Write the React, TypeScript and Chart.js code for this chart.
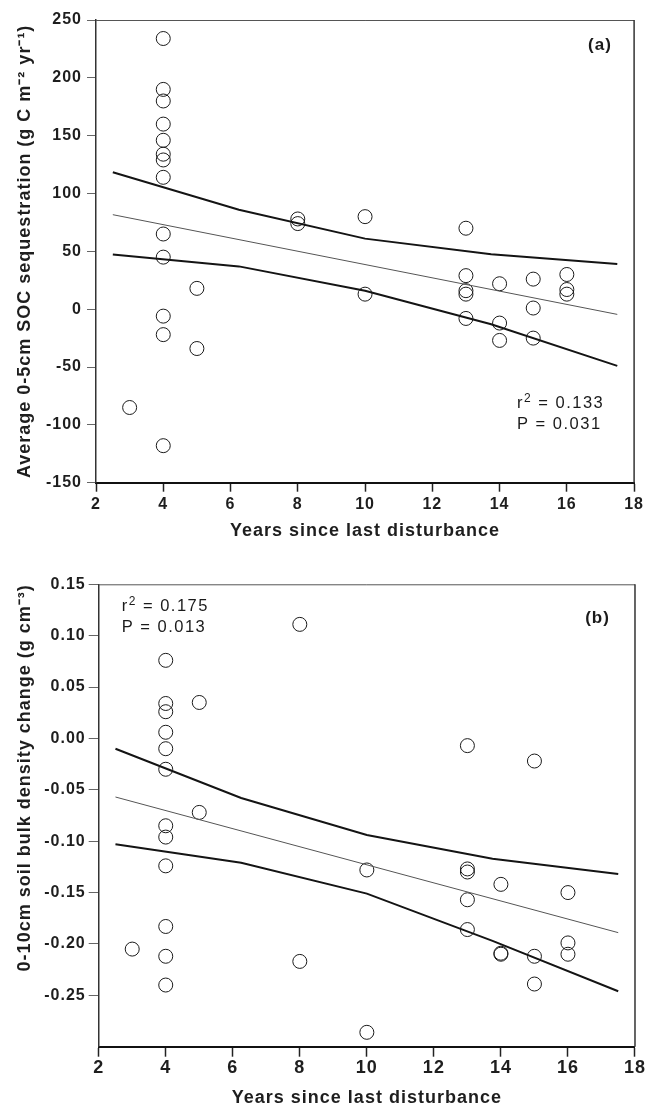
import React, { useEffect, useRef } from "react";
import { Chart, registerables } from "chart.js";

Chart.register(...registerables);

const FONT = "'Liberation Sans', Arial, Helvetica, sans-serif";

// ---------- Shared axis ----------
const xTicks = [2, 4, 6, 8, 10, 12, 14, 16, 18];
const fitX = [2.5, 17.5];
const ciX = [2.5, 6.25, 10, 13.75, 17.5];

// ---------- Panel (a): SOC sequestration ----------
const yTicksA = [-150, -100, -50, 0, 50, 100, 150, 200, 250];
const yearsA = [
  3,
  4, 4, 4, 4, 4, 4, 4, 4, 4, 4, 4, 4, 4,
  5, 5,
  8, 8,
  10, 10,
  13, 13, 13, 13, 13,
  14, 14, 14,
  15, 15, 15,
  16, 16, 16,
];
const socA = [
  -85,
  234, 190, 180, 160, 146, 134, 129, 114, 65, 45, -6, -22, -118,
  18, -34,
  78, 74,
  80, 13,
  70, 29, 16, 13, -8,
  22, -12, -27,
  26, 1, -25,
  30, 17, 13,
];
const fitA = [81.7, -4.5];
const ciUpperA = [118.4, 86, 61, 47.5, 39];
const ciLowerA = [47.2, 37, 16, -13, -49];

// ---------- Panel (b): bulk density change ----------
const yTicksB = [-0.25, -0.2, -0.15, -0.1, -0.05, 0, 0.05, 0.1, 0.15];
const yearsB = [
  3,
  4, 4, 4, 4, 4, 4, 4, 4, 4, 4, 4, 4,
  5, 5,
  8, 8,
  10, 10,
  13, 13, 13, 13, 13,
  14, 14, 14,
  15, 15, 15,
  16, 16, 16,
];
const densB = [
  -0.205,
  0.076, 0.034, 0.026, 0.006, -0.01, -0.03, -0.085, -0.096, -0.124, -0.183, -0.212, -0.24,
  0.035, -0.072,
  0.111, -0.217,
  -0.128, -0.286,
  -0.007, -0.127, -0.13, -0.157, -0.186,
  -0.142, -0.209, -0.21,
  -0.022, -0.212, -0.239,
  -0.15, -0.199, -0.21,
];
const fitB = [-0.057, -0.189];
const ciUpperB = [-0.01, -0.058, -0.094, -0.117, -0.132];
const ciLowerB = [-0.103, -0.121, -0.151, -0.197, -0.246];

const W = 647;
const H = 554;

type Panel = {
  xs: number[];
  ys: number[];
  fit: number[];
  upper: number[];
  lower: number[];
  yTicks: number[];
  yMin: number;
  yMax: number;
  fmt: (v: number) => string;
  yTitle: string;
  yTitleAlign: "center" | "end";
  plotLeft: number;
  plotTop: number;
  plotRight: number;
  plotBottom: number;
  xTickSize: number;
  xTickPad: number;
  yTickPad: number;
  tickLen: number;
  xTitlePad: number;
  tag: string;
  tagX: number;
  tagY: number;
  r2: string;
  pval: string;
  statX: number;
  statY: number;
};

const panelA: Panel = {
  xs: yearsA,
  ys: socA,
  fit: fitA,
  upper: ciUpperA,
  lower: ciLowerA,
  yTicks: yTicksA,
  yMin: -150,
  yMax: 250,
  fmt: (v) => String(v),
  yTitle: "Average 0-5cm SOC sequestration (g C m\u207B\u00B2 yr\u207B\u00B9)",
  yTitleAlign: "center",
  plotLeft: 96,
  plotTop: 20,
  plotRight: 634.5,
  plotBottom: 482.7,
  xTickSize: 16,
  xTickPad: 3,
  yTickPad: 5,
  tickLen: 9,
  xTitlePad: 13.5,
  tag: "(a)",
  tagX: 600,
  tagY: 45,
  r2: "0.133",
  pval: "0.031",
  statX: 517,
  statY: 408,
};

const panelB: Panel = {
  xs: yearsB,
  ys: densB,
  fit: fitB,
  upper: ciUpperB,
  lower: ciLowerB,
  yTicks: yTicksB,
  yMin: -0.3,
  yMax: 0.15,
  fmt: (v) => v.toFixed(2),
  yTitle: "0-10cm soil bulk density change (g cm\u207B\u00B3)",
  yTitleAlign: "end",
  plotLeft: 98.7,
  plotTop: 30.3,
  plotRight: 637.3,
  plotBottom: 492.7,
  xTickSize: 18,
  xTickPad: 1,
  yTickPad: 3,
  tickLen: 10,
  xTitlePad: 0.7,
  tag: "(b)",
  tagX: 597.5,
  tagY: 64.3,
  r2: "0.175",
  pval: "0.013",
  statX: 121.7,
  statY: 56.7,
};

const spacingPlugin = {
  id: "spacing",
  beforeLayout(chart: any) {
    (chart.ctx as any).letterSpacing = "1px";
  },
  beforeDraw(chart: any) {
    (chart.ctx as any).letterSpacing = "1px";
  },
};

function makeDecor(p: Panel) {
  return {
    id: "decor",
    afterDraw(chart: any) {
      const { ctx, chartArea } = chart;
      ctx.save();
      // frame: top and right edges
      ctx.strokeStyle = "#555";
      ctx.lineWidth = 1;
      ctx.beginPath();
      ctx.moveTo(chartArea.left, chartArea.top + 0.5);
      ctx.lineTo(chartArea.right, chartArea.top + 0.5);
      ctx.stroke();
      ctx.strokeStyle = "#333";
      ctx.lineWidth = 1.5;
      ctx.beginPath();
      ctx.moveTo(chartArea.right, chartArea.top);
      ctx.lineTo(chartArea.right, chartArea.bottom);
      ctx.stroke();

      // panel tag
      (ctx as any).letterSpacing = "1px";
      ctx.fillStyle = "#1a1a1a";
      ctx.font = `bold 17px ${FONT}`;
      ctx.textAlign = "center";
      ctx.textBaseline = "middle";
      ctx.fillText(p.tag, p.tagX, p.tagY);

      // statistics
      (ctx as any).letterSpacing = "1.5px";
      ctx.textAlign = "left";
      ctx.textBaseline = "alphabetic";
      let x = p.statX;
      ctx.font = `16.5px ${FONT}`;
      ctx.fillText("r", x, p.statY);
      x += ctx.measureText("r").width;
      ctx.font = `12px ${FONT}`;
      ctx.fillText("2", x, p.statY - 6);
      x += ctx.measureText("2").width;
      ctx.font = `16.5px ${FONT}`;
      ctx.fillText(" = " + p.r2, x, p.statY);
      ctx.fillText("P = " + p.pval, p.statX, p.statY + 21);
      ctx.restore();
    },
  };
}

function buildChart(canvas: HTMLCanvasElement, p: Panel) {
  const pts = p.xs.map((x, i) => ({ x, y: p.ys[i] }));
  const fitPts = fitX.map((x, i) => ({ x, y: p.fit[i] }));
  const upPts = ciX.map((x, i) => ({ x, y: p.upper[i] }));
  const loPts = ciX.map((x, i) => ({ x, y: p.lower[i] }));
  return new Chart(canvas, {
    type: "scatter",
    data: {
      datasets: [
        {
          label: "fit",
          data: fitPts,
          showLine: true,
          pointRadius: 0,
          borderColor: "#555",
          borderWidth: 1,
          tension: 0,
        },
        {
          label: "upper",
          data: upPts,
          showLine: true,
          pointRadius: 0,
          borderColor: "#141414",
          borderWidth: 2,
          tension: 0,
        },
        {
          label: "lower",
          data: loPts,
          showLine: true,
          pointRadius: 0,
          borderColor: "#141414",
          borderWidth: 2,
          tension: 0,
        },
        {
          label: "obs",
          data: pts,
          showLine: false,
          pointStyle: "circle",
          pointRadius: 7,
          pointHoverRadius: 7,
          pointBorderWidth: 1,
          pointBorderColor: "#1a1a1a",
          pointBackgroundColor: "rgba(0,0,0,0)",
        },
      ],
    } as any,
    options: {
      animation: false,
      responsive: false,
      devicePixelRatio: 1,
      events: [],
      layout: {
        padding: { left: 0, top: p.plotTop, right: W - p.plotRight, bottom: 0 },
      },
      plugins: { legend: { display: false }, tooltip: { enabled: false } },
      scales: {
        x: {
          type: "linear",
          position: "bottom",
          min: 2,
          max: 18,
          afterBuildTicks: (s: any) => {
            s.ticks = xTicks.map((v) => ({ value: v }));
          },
          afterFit: (s: any) => {
            s.height = H - p.plotBottom;
          },
          grid: {
            display: true,
            drawOnChartArea: false,
            drawTicks: true,
            tickLength: p.tickLen,
            tickColor: "#222",
            tickWidth: 1.5,
          },
          border: { display: true, color: "#111", width: 2 },
          ticks: {
            autoSkip: false,
            maxRotation: 0,
            padding: p.xTickPad,
            color: "#1e1e1e",
            font: { family: FONT, size: p.xTickSize, weight: "bold" },
            callback: (v: any) => String(v),
          },
          title: {
            display: true,
            text: "Years since last disturbance",
            color: "#1e1e1e",
            font: { family: FONT, size: 18, weight: "bold", lineHeight: 1 },
            padding: { top: 0, bottom: p.xTitlePad },
          },
        },
        y: {
          type: "linear",
          position: "left",
          min: p.yMin,
          max: p.yMax,
          afterBuildTicks: (s: any) => {
            s.ticks = p.yTicks.map((v) => ({ value: v }));
          },
          afterFit: (s: any) => {
            s.width = p.plotLeft;
          },
          grid: {
            display: true,
            drawOnChartArea: false,
            drawTicks: true,
            tickLength: p.tickLen,
            tickColor: "#666",
            tickWidth: 1,
          },
          border: { display: true, color: "#333", width: 1.5 },
          ticks: {
            padding: p.yTickPad,
            color: "#1e1e1e",
            font: { family: FONT, size: 16, weight: "bold" },
            callback: (v: any) => p.fmt(Number(v)),
          },
          title: {
            display: true,
            text: p.yTitle,
            align: p.yTitleAlign,
            color: "#1e1e1e",
            font: { family: FONT, size: 18, weight: "bold", lineHeight: 1.2 },
            padding: { top: 14, bottom: 0 },
          },
        },
      },
    } as any,
    plugins: [spacingPlugin, makeDecor(p)],
  });
}

function PanelChart({ p }: { p: Panel }) {
  const ref = useRef<HTMLCanvasElement | null>(null);
  useEffect(() => {
    if (!ref.current) return;
    const chart = buildChart(ref.current, p);
    return () => chart.destroy();
  }, [p]);
  return (
    <div style={{ width: W, height: H, position: "relative" }}>
      <canvas ref={ref} width={W} height={H} style={{ display: "block", width: W, height: H }} />
    </div>
  );
}

export default function App() {
  return (
    <div
      style={{
        position: "absolute",
        left: 0,
        top: 0,
        width: W,
        height: 2 * H,
        background: "#fff",
      }}
    >
      <PanelChart p={panelA} />
      <PanelChart p={panelB} />
    </div>
  );
}
